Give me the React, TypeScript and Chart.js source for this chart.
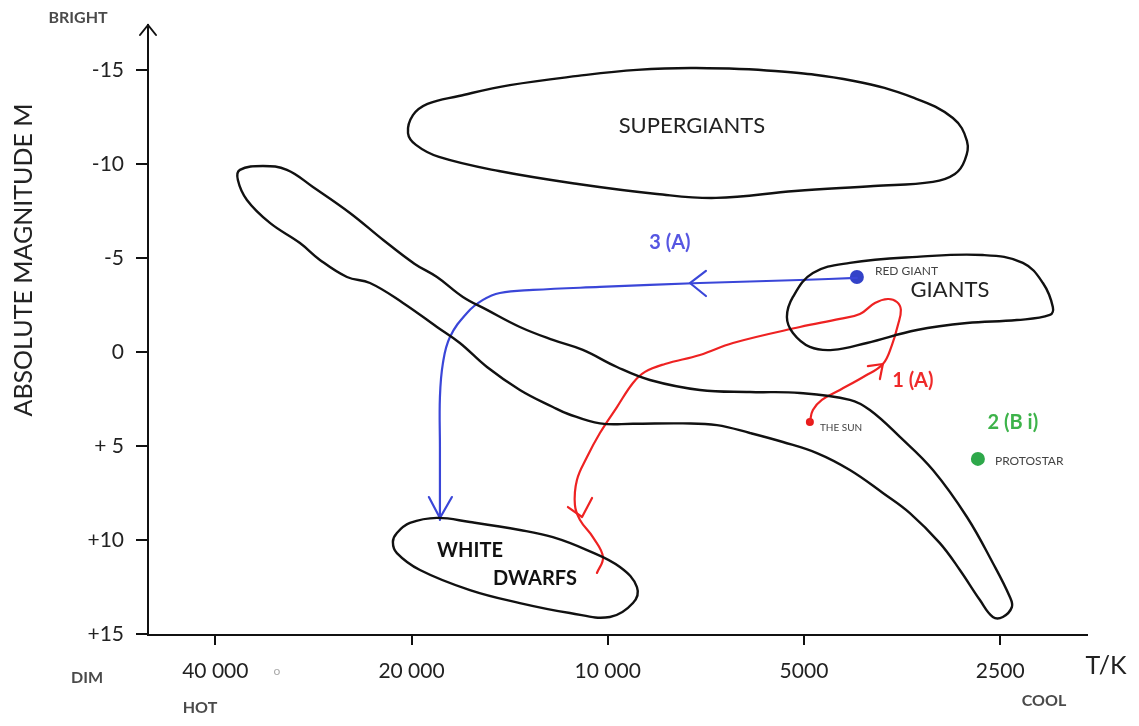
import React, { useEffect, useRef } from 'react';
import { Chart, registerables } from 'chart.js';

Chart.register(...registerables);

// ---------- axes ----------
const X_TICKS = [40000, 20000, 10000, 5000, 2500];
const X_TICK_LABELS = ['40 000', '20 000', '10 000', '5000', '2500'];
const Y_TICKS = [-15, -10, -5, 0, 5, 10, 15];
const Y_TICK_LABELS = ['-15', '-10', '-5', '0', '+ 5', '+10', '+15'];
const X_MIN = 1840;
const X_MAX = 50730;
const Y_MIN = -17.4;
const Y_MAX = 15.06;

// ---------- regions: [temperature K, absolute magnitude] ----------
type P = [number, number];

const SUPERGIANTS: P[] = [
  [20250, -11.65], [19900, -12.6], [18900, -13.2], [16920, -13.62], [14130, -14.2],
  [11110, -14.69], [9020, -15.01], [7320, -15.11], [5540, -14.95], [4190, -14.42],
  [3390, -13.52], [2955, -12.45], [2812, -11.23], [2832, -10.22], [2934, -9.47],
  [3171, -9.05], [3906, -8.83], [5162, -8.57], [6822, -8.2], [8405, -8.41],
  [11110, -8.94], [14690, -9.63], [18150, -10.38], [19690, -11.02],
];

const MAIN_SEQUENCE: P[] = [
  [36670, -9.69], [33800, -9.9], [31060, -9.69], [28330, -8.78], [24860, -7.4],
  [22100, -5.96], [19800, -4.7], [18280, -3.99], [16680, -2.93], [15320, -2.24],
  [13640, -1.33], [12140, -0.64], [10920, -0.11], [9680, 0.8], [8616, 1.49],
  [7221, 2.02], [6052, 2.13], [5072, 2.18], [4252, 2.55], [3962, 3.09],
  [3563, 4.52], [3171, 6.28], [2812, 8.78], [2566, 11.23], [2416, 13.04],
  [2399, 13.57], [2477, 14.1], [2566, 14.1], [2686, 13.2], [2883, 11.6],
  [3094, 10.17], [3440, 8.57], [3784, 7.5], [4252, 6.28], [4777, 5.38],
  [5386, 4.79], [6052, 4.31], [6800, 3.89], [7668, 3.8], [9148, 3.82],
  [10280, 3.8], [11500, 3.3], [12140, 2.93], [13640, 2.02], [15320, 0.8],
  [16860, -0.48], [18280, -1.33], [20610, -2.61], [23160, -3.67], [25120, -3.99],
  [27640, -4.9], [29660, -5.8], [32980, -6.87], [35770, -8.09], [36930, -9.15],
];

const GIANTS: P[] = [
  [5311, -1.86], [5199, -2.93], [4845, -4.2], [4252, -4.74], [3355, -5.06],
  [2658, -5.16], [2308, -4.74], [2150, -3.67], [2076, -2.39], [2098, -1.97],
  [2357, -1.7], [2812, -1.54], [3355, -1.17], [4004, -0.48], [4515, -0.11],
  [4897, -0.27], [5199, -1.01],
];

const WHITE_DWARFS: P[] = [
  [21060, 9.63], [20110, 9.1], [18280, 8.83], [16270, 9.05], [13640, 9.47],
  [12140, 9.85], [10760, 10.54], [9579, 11.44], [9020, 12.51], [9148, 13.36],
  [9923, 14.1], [11430, 13.89], [13640, 13.36], [16270, 12.67], [19410, 11.6],
  [21060, 10.7], [21360, 10.11],
];

// ---------- evolutionary tracks ----------
const BLUE_TRACK: P[] = [
  [4148, -3.94], [5072, -3.83], [7221, -3.67], [10280, -3.46], [13020, -3.3],
  [14640, -3.14], [15540, -2.77], [16440, -2.08], [17460, -0.8], [17900, 0.59],
  [18090, 2.39], [18090, 5.06], [18090, 8.94],
];
const BLUE_ARROW_LEFT: P[] = [[7069, -4.31], [7481, -3.67], [7069, -2.98]];
const BLUE_ARROW_DOWN: P[] = [[18810, 7.72], [18090, 8.83], [17340, 7.72]];

const RED_TRACK: P[] = [
  [4897, 3.73], [4845, 3.09], [4694, 2.55], [4404, 2.02], [4032, 1.28],
  [3784, 0.64], [3665, -0.37], [3588, -1.44], [3551, -2.24], [3601, -2.66],
  [3717, -2.82], [3892, -2.61], [4104, -2.02], [4404, -1.76], [5072, -1.33],
  [6426, -0.48], [7221, 0.16], [8170, 0.64], [8768, 1.06], [9148, 1.65],
  [9680, 2.93], [10280, 4.31], [10760, 5.59], [11150, 6.81], [11230, 8.14],
  [11030, 8.94], [10540, 9.85], [10170, 10.91], [10390, 11.76],
];
const RED_ARROW_UP: P[] = [[3990, 0.75], [3784, 0.64], [3824, 1.44]];
const RED_ARROW_DOWN: P[] = [[11510, 8.25], [10950, 8.78], [10570, 7.77]];

// ---------- stars ----------
const RED_GIANT: P = [4148, -3.99];
const THE_SUN: P = [4897, 3.73];
const PROTOSTAR: P = [2705, 5.69];

// ---------- labels ----------
const LABEL_TEXT = ['SUPERGIANTS', 'GIANTS', 'RED GIANT', '3 (A)', '1 (A)', '2 (B i)', 'THE SUN', 'PROTOSTAR', 'WHITE', 'DWARFS'];
const LABEL_T = [7430, 2986, 3892, 8028, 3404, 2391, 4727, 2547, 16270, 12930];
const LABEL_M = [-12.03, -3.3, -4.31, -5.8, 1.54, 3.73, 4.04, 5.8, 10.54, 12.03];

const FONT = 'Lato, "Open Sans", sans-serif';
const LABEL_STYLE: Record<string, { font: string; color: string; align: CanvasTextAlign }> = {
  'SUPERGIANTS': { font: `22px ${FONT}`, color: '#222', align: 'center' },
  'GIANTS': { font: `22px ${FONT}`, color: '#222', align: 'center' },
  'RED GIANT': { font: `12px ${FONT}`, color: '#444', align: 'left' },
  '3 (A)': { font: `bold 20px ${FONT}`, color: '#5656e2', align: 'center' },
  '1 (A)': { font: `bold 20px ${FONT}`, color: '#ef2a2a', align: 'center' },
  '2 (B i)': { font: `bold 20px ${FONT}`, color: '#3db34a', align: 'center' },
  'THE SUN': { font: `10px ${FONT}`, color: '#444', align: 'left' },
  'PROTOSTAR': { font: `12px ${FONT}`, color: '#444', align: 'left' },
  'WHITE': { font: `bold 20px ${FONT}`, color: '#111', align: 'center' },
  'DWARFS': { font: `bold 20px ${FONT}`, color: '#111', align: 'center' },
};

const INK = '#111';
const BLUE = '#3a46d8';
const RED = '#ee2222';
const HIDDEN = 'rgba(0,0,0,0)';

const toXY = (pts: P[]) => pts.map(([x, y]) => ({ x, y }));

function outline(label: string, pts: P[]) {
  const n = pts.length;
  const wrapped: P[] = [pts[n - 1], ...pts, pts[0], pts[1]];
  return {
    label,
    data: toXY(wrapped),
    showLine: true,
    borderColor: INK,
    borderWidth: 2.4,
    pointRadius: 0,
    pointHoverRadius: 0,
    tension: 0.4,
    fill: false,
    borderCapStyle: 'round',
    borderJoinStyle: 'round',
    segment: {
      borderColor: (c: any) => (c.p0DataIndex === 0 || c.p0DataIndex === n + 1 ? HIDDEN : INK),
    },
  };
}

function track(label: string, pts: P[], color: string, tension: number) {
  return {
    label,
    data: toXY(pts),
    showLine: true,
    borderColor: color,
    borderWidth: 2.2,
    pointRadius: 0,
    pointHoverRadius: 0,
    tension,
    fill: false,
    borderCapStyle: 'round',
    borderJoinStyle: 'round',
  };
}

function star(label: string, pt: P, color: string, r: number) {
  return {
    label,
    data: toXY([pt]),
    showLine: false,
    pointRadius: r,
    pointHoverRadius: r,
    pointBackgroundColor: color,
    pointBorderColor: color,
    pointBorderWidth: 0,
  };
}

const decorPlugin = {
  id: 'hrDecor',
  afterDatasetsDraw(chart: any) {
    const { ctx, chartArea } = chart;
    const xs = chart.scales.x;
    const ys = chart.scales.y;
    ctx.save();
    ctx.textBaseline = 'middle';
    LABEL_TEXT.forEach((t, i) => {
      const s = LABEL_STYLE[t];
      ctx.font = s.font;
      ctx.fillStyle = s.color;
      ctx.textAlign = s.align;
      ctx.fillText(t, xs.getPixelForValue(LABEL_T[i]), ys.getPixelForValue(LABEL_M[i]));
    });

    // arrow head on the magnitude axis
    const L = chartArea.left;
    const T = chartArea.top;
    ctx.strokeStyle = INK;
    ctx.lineWidth = 2;
    ctx.lineCap = 'round';
    ctx.beginPath();
    ctx.moveTo(L - 8, T + 10);
    ctx.lineTo(L, T);
    ctx.lineTo(L + 8, T + 10);
    ctx.stroke();

    // outer captions
    ctx.textAlign = 'center';
    ctx.fillStyle = '#4a4a4a';
    ctx.font = `bold 16px ${FONT}`;
    ctx.fillText('BRIGHT', 78, 18);
    ctx.fillText('DIM', 87, 678);
    ctx.fillText('HOT', 200, 708);
    ctx.fillText('COOL', 1044, 701);
    ctx.fillStyle = '#aaa';
    ctx.font = `12px ${FONT}`;
    ctx.fillText('o', 277, 671);
    ctx.fillStyle = '#222';
    ctx.font = `25px ${FONT}`;
    ctx.fillText('T/K', 1106, 666);

    ctx.translate(24, 260);
    ctx.rotate(-Math.PI / 2);
    ctx.font = `25px ${FONT}`;
    ctx.fillStyle = '#222';
    ctx.fillText('ABSOLUTE MAGNITUDE M', 0, 0);
    ctx.restore();
  },
};

export default function App() {
  const ref = useRef<HTMLCanvasElement | null>(null);

  useEffect(() => {
    if (!ref.current) return;
    const chart = new Chart(ref.current, {
      type: 'scatter',
      data: {
        datasets: [
          outline('Supergiants', SUPERGIANTS),
          outline('Main sequence', MAIN_SEQUENCE),
          outline('Giants', GIANTS),
          outline('White dwarfs', WHITE_DWARFS),
          track('Track 3 (A)', BLUE_TRACK, BLUE, 0.4),
          track('Arrow 3a', BLUE_ARROW_LEFT, BLUE, 0),
          track('Arrow 3b', BLUE_ARROW_DOWN, BLUE, 0),
          track('Track 1 (A)', RED_TRACK, RED, 0.4),
          track('Arrow 1a', RED_ARROW_UP, RED, 0),
          track('Arrow 1b', RED_ARROW_DOWN, RED, 0),
          star('Red giant', RED_GIANT, '#3342c8', 7),
          star('The Sun', THE_SUN, '#e81c1c', 4),
          star('Protostar', PROTOSTAR, '#2ea84a', 7),
        ] as any,
      },
      options: {
        responsive: false,
        animation: false,
        devicePixelRatio: 1,
        events: [],
        layout: { padding: { left: 0, right: 52, top: 25, bottom: 0 } },
        plugins: {
          legend: { display: false },
          tooltip: { enabled: false },
          title: { display: false },
        },
        scales: {
          x: {
            type: 'logarithmic',
            reverse: true,
            min: X_MIN,
            max: X_MAX,
            afterBuildTicks: (s: any) => {
              s.ticks = X_TICKS.map((v) => ({ value: v }));
            },
            afterFit: (s: any) => {
              s.height = 91;
            },
            ticks: {
              autoSkip: false,
              maxRotation: 0,
              padding: 14,
              color: '#222',
              font: { family: FONT, size: 21 },
              callback: (v: any) => {
                const i = X_TICKS.indexOf(Number(v));
                return i >= 0 ? X_TICK_LABELS[i] : '';
              },
            },
            grid: { drawOnChartArea: false, drawTicks: true, tickLength: 10, color: INK, lineWidth: 2 },
            border: { display: true, color: INK, width: 2 },
          },
          y: {
            type: 'linear',
            reverse: true,
            min: Y_MIN,
            max: Y_MAX,
            afterBuildTicks: (s: any) => {
              s.ticks = Y_TICKS.map((v) => ({ value: v }));
            },
            afterFit: (s: any) => {
              s.width = 148;
            },
            ticks: {
              autoSkip: false,
              padding: 12,
              color: '#222',
              font: { family: FONT, size: 21 },
              callback: (v: any) => {
                const i = Y_TICKS.indexOf(Number(v));
                return i >= 0 ? Y_TICK_LABELS[i] : '';
              },
            },
            grid: { drawOnChartArea: false, drawTicks: true, tickLength: 12, color: INK, lineWidth: 2 },
            border: { display: true, color: INK, width: 2 },
          },
        },
      } as any,
      plugins: [decorPlugin],
    });
    return () => chart.destroy();
  }, []);

  return (
    <div style={{ position: 'absolute', left: 0, top: 0, width: 1139, height: 726, background: '#fff' }}>
      <canvas ref={ref} width={1139} height={726} style={{ display: 'block', width: 1139, height: 726 }} />
    </div>
  );
}
